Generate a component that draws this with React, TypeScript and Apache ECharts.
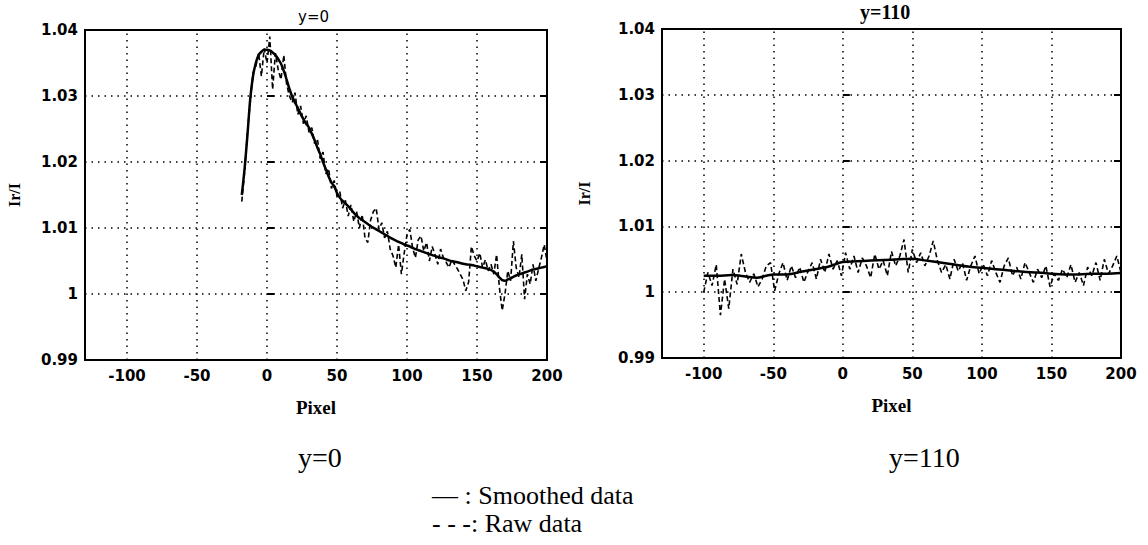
import React, { useEffect, useRef } from "react";
import * as echarts from "echarts";

// ---- Data ----
const xGridValues = [-100, -50, 0, 50, 100, 150];

// Left panel (y=0): smoothed data
const leftSmoothX = [-18, -16, -14, -12, -10, -8, -6, -4, -2, 0, 2, 4, 6, 8, 10, 12, 14, 16, 18, 20, 22, 24, 26, 28, 30, 32, 34, 36, 38, 40, 42, 44, 46, 48, 50, 52, 54, 56, 58, 60, 62, 64, 66, 68, 70, 74, 78, 82, 86, 90, 94, 98, 102, 106, 110, 114, 118, 122, 126, 130, 134, 138, 142, 146, 150, 154, 158, 162, 164, 166, 168, 170, 172, 174, 176, 178, 182, 186, 190, 194, 198, 200];
const leftSmoothY = [1.015, 1.019, 1.024, 1.0295, 1.033, 1.035, 1.0362, 1.0367, 1.037, 1.037, 1.0369, 1.0366, 1.0362, 1.0356, 1.0349, 1.0338, 1.0325, 1.0311, 1.0299, 1.029, 1.0282, 1.0273, 1.0265, 1.0258, 1.0252, 1.0243, 1.0233, 1.0222, 1.0212, 1.02, 1.0189, 1.0178, 1.0169, 1.0163, 1.0153, 1.0146, 1.0141, 1.0137, 1.0133, 1.0128, 1.0123, 1.0119, 1.0115, 1.0112, 1.0109, 1.0103, 1.0098, 1.0093, 1.0088, 1.0083, 1.0079, 1.0075, 1.0072, 1.0068, 1.0065, 1.0062, 1.0059, 1.0056, 1.0054, 1.0051, 1.0049, 1.0047, 1.0045, 1.0044, 1.0042, 1.004, 1.0038, 1.0034, 1.003, 1.0025, 1.0021, 1.002, 1.0022, 1.0024, 1.0026, 1.0028, 1.0031, 1.0034, 1.0037, 1.0039, 1.0041, 1.0042];

// Left panel (y=0): raw data
const leftRawX = [-18, -16, -14, -12, -10, -8, -6, -4, -2, 0, 2, 4, 6, 8, 10, 12, 14, 16, 18, 20, 22, 24, 26, 28, 30, 32, 34, 36, 38, 40, 42, 44, 46, 48, 50, 52, 54, 56, 58, 60, 62, 64, 66, 68, 70, 72, 74, 76, 78, 80, 82, 84, 86, 88, 90, 92, 94, 96, 98, 100, 102, 104, 106, 108, 110, 112, 114, 116, 118, 120, 122, 124, 126, 128, 130, 132, 134, 136, 138, 140, 142, 144, 146, 148, 150, 152, 154, 156, 158, 160, 162, 164, 166, 168, 170, 172, 174, 176, 178, 180, 182, 184, 186, 188, 190, 192, 194, 196, 198, 200];
const leftRawY = [1.014, 1.0185, 1.0245, 1.029, 1.0335, 1.0345, 1.0365, 1.033, 1.0372, 1.035, 1.039, 1.031, 1.0365, 1.034, 1.0325, 1.0362, 1.0318, 1.03, 1.029, 1.0305, 1.0272, 1.0285, 1.0258, 1.027, 1.0245, 1.0252, 1.0228, 1.0235, 1.0205, 1.0215, 1.0182, 1.019, 1.016, 1.0172, 1.0148, 1.0155, 1.013, 1.0142, 1.0118, 1.0135, 1.011, 1.0125, 1.01, 1.012, 1.0085, 1.0078, 1.0112, 1.0125, 1.013, 1.0098, 1.0108, 1.0085, 1.0095, 1.0068, 1.0058, 1.004, 1.0075, 1.003, 1.0062, 1.009, 1.0098, 1.007, 1.0055, 1.0082, 1.0088, 1.0065, 1.0078, 1.005, 1.0072, 1.006, 1.0045, 1.0068, 1.0055, 1.0048, 1.004, 1.0052, 1.0045, 1.0038, 1.003, 1.0022, 1.0005, 1.0018, 1.0072, 1.0058, 1.005, 1.0062, 1.004, 1.0052, 1.0035, 1.0045, 1.003, 1.006, 1.001, 0.9975, 1.0, 1.0035, 1.002, 1.008, 1.004, 1.0025, 1.006, 0.9992, 1.003, 1.0015, 1.0045, 1.002, 1.0038, 1.0055, 1.0075, 1.005];

// Right panel (y=110): smoothed data
const rightSmoothX = [-100, -90, -80, -70, -62, -55, -50, -40, -30, -20, -10, 0, 10, 20, 30, 40, 50, 60, 70, 80, 90, 100, 110, 120, 130, 140, 150, 160, 170, 180, 190, 200];
const rightSmoothY = [1.0025, 1.0025, 1.0026, 1.0024, 1.0022, 1.0025, 1.0027, 1.0027, 1.0031, 1.0035, 1.0039, 1.0046, 1.0047, 1.0048, 1.0049, 1.005, 1.0051, 1.0048, 1.0045, 1.0042, 1.0039, 1.0037, 1.0035, 1.0033, 1.0031, 1.003, 1.0028, 1.0027, 1.0027, 1.0028, 1.0028, 1.0029];

// Right panel (y=110): raw data
const rightRawX = [-100, -97, -94, -91, -88, -85, -82, -79, -76, -73, -70, -67, -64, -61, -58, -55, -52, -49, -46, -43, -40, -37, -34, -31, -28, -25, -22, -19, -16, -13, -10, -7, -4, -1, 2, 5, 8, 11, 14, 17, 20, 23, 26, 29, 32, 35, 38, 41, 44, 47, 50, 53, 56, 59, 62, 65, 68, 71, 74, 77, 80, 83, 86, 89, 92, 95, 98, 101, 104, 107, 110, 113, 116, 119, 122, 125, 128, 131, 134, 137, 140, 143, 146, 149, 152, 155, 158, 161, 164, 167, 170, 173, 176, 179, 182, 185, 188, 191, 194, 197, 200];
const rightRawY = [1.0, 1.003, 1.001, 1.0042, 0.9965, 1.002, 0.9975, 1.0035, 1.0012, 1.0058, 1.003, 1.0015, 1.0028, 1.0008, 1.002, 1.004, 1.0045, 1.0002, 1.0028, 1.0045, 1.0018, 1.004, 1.0022, 1.0038, 1.0015, 1.0032, 1.0045, 1.002, 1.005, 1.003, 1.0058, 1.0035, 1.0048, 1.0025, 1.006, 1.0035, 1.0055, 1.003, 1.0052, 1.004, 1.0022, 1.0058, 1.0035, 1.0048, 1.0025, 1.0062, 1.004, 1.0055, 1.008, 1.003, 1.0065, 1.0045, 1.006, 1.004, 1.0055, 1.0078, 1.0048, 1.003, 1.0042, 1.002, 1.005, 1.0032, 1.0045, 1.0018, 1.004, 1.0055, 1.0028, 1.0042, 1.0025, 1.0048, 1.003, 1.0015, 1.004, 1.0052, 1.0025, 1.0038, 1.002, 1.0045, 1.003, 1.0015, 1.0035, 1.0022, 1.004, 1.0008, 1.0028, 1.0018, 1.0035, 1.0022, 1.0042, 1.0015, 1.003, 1.001, 1.0038, 1.0025, 1.0045, 1.0018, 1.005, 1.0028, 1.004, 1.0055, 1.003];

const panelTitles = ["y=0", "y=110"];
const axisXName = "Pixel";
const axisYName = "Ir/I";
const legendSmooth = "— : Smoothed data";
const legendRaw = "- - -: Raw data";

const pairs = (xs: number[], ys: number[]) => xs.map((x, i) => [x, ys[i]]);
const SERIF = "Liberation Serif";
const TICKFONT = "DejaVu Sans";

export default function App() {
  const ref = useRef<HTMLDivElement>(null);
  useEffect(() => {
    document.body.style.margin = "0";
    if (!ref.current) return;
    const chart = echarts.init(ref.current, undefined, { renderer: "svg" });

    const grids = [
      { left: 85, top: 30, width: 462, height: 330 },
      { left: 662, top: 29, width: 459, height: 329 },
    ];
    const yNameGaps = [63, 70];
    const dotted = [1.5, 5];

    const xAxes = grids.map((_, gi) => ({
      type: "value",
      gridIndex: gi,
      min: -130,
      max: 200,
      interval: 10,
      axisLine: { show: false },
      axisTick: { show: false },
      splitLine: { show: false },
      axisLabel: {
        formatter: (v: number) => (Math.round(v) % 50 === 0 ? String(Math.round(v)) : ""),
        fontFamily: TICKFONT,
        fontWeight: "bold",
        fontSize: 15,
        color: "#000",
        margin: 8,
      },
      name: axisXName,
      nameLocation: "middle",
      nameGap: 38,
      nameTextStyle: { fontFamily: SERIF, fontWeight: "bold", fontSize: 19, color: "#000" },
    }));

    const yAxes: any[] = [];
    grids.forEach((_, gi) => {
      yAxes.push({
        type: "value",
        gridIndex: gi,
        min: 0.99,
        max: 1.04,
        interval: 0.01,
        axisLine: { show: false },
        axisTick: { show: true, inside: true, length: 7, lineStyle: { color: "#000", width: 2 } },
        splitLine: { show: true, lineStyle: { color: "#000", width: 1.5, type: dotted } },
        axisLabel: {
          formatter: (v: number) => String(Math.round(v * 100) / 100),
          fontFamily: TICKFONT,
          fontWeight: "bold",
          fontSize: 15,
          color: "#000",
          margin: 7,
        },
        name: axisYName,
        nameLocation: "middle",
        nameRotate: 90,
        nameGap: yNameGaps[gi],
        nameTextStyle: { fontFamily: SERIF, fontWeight: "bold", fontSize: 16, color: "#000" },
      });
      yAxes.push({
        type: "value",
        gridIndex: gi,
        position: "right",
        min: 0.99,
        max: 1.04,
        interval: 0.01,
        axisLine: { show: false },
        axisTick: { show: true, inside: true, length: 7, lineStyle: { color: "#000", width: 2 } },
        splitLine: { show: false },
        axisLabel: { show: false },
      });
    });

    const gridMarkLine = {
      silent: true,
      symbol: ["none", "none"],
      label: { show: false },
      lineStyle: { color: "#000", width: 1.5, type: dotted },
      data: xGridValues.map((x) => ({ xAxis: x })),
    };

    const series: any[] = [
      {
        type: "line",
        xAxisIndex: 0,
        yAxisIndex: 0,
        data: pairs(leftRawX, leftRawY),
        showSymbol: false,
        lineStyle: { color: "#000", width: 1.6, type: [5, 3] },
        markLine: gridMarkLine,
        z: 3,
      },
      {
        type: "line",
        xAxisIndex: 0,
        yAxisIndex: 0,
        data: pairs(leftSmoothX, leftSmoothY),
        showSymbol: false,
        smooth: 0.3,
        lineStyle: { color: "#000", width: 2.5 },
        z: 4,
      },
      {
        type: "line",
        xAxisIndex: 1,
        yAxisIndex: 2,
        data: pairs(rightRawX, rightRawY),
        showSymbol: false,
        lineStyle: { color: "#000", width: 1.6, type: [5, 3] },
        markLine: gridMarkLine,
        z: 3,
      },
      {
        type: "line",
        xAxisIndex: 1,
        yAxisIndex: 2,
        data: pairs(rightSmoothX, rightSmoothY),
        showSymbol: false,
        smooth: 0.3,
        lineStyle: { color: "#000", width: 2.5 },
        z: 4,
      },
    ];

    const serifText = (text: string, left: number, top: number, size: number) => ({
      type: "text",
      left,
      top,
      style: { text, font: `normal ${size}px "Liberation Serif", "Times New Roman", serif`, fill: "#000" },
    });

    const option: any = {
      animation: false,
      backgroundColor: "#fff",
      grid: grids.map((g) => ({ ...g, show: true, borderColor: "#000", borderWidth: 2, backgroundColor: "transparent" })),
      xAxis: xAxes,
      yAxis: yAxes,
      series,
      graphic: [
        {
          type: "text",
          left: 298,
          top: 9,
          style: { text: panelTitles[0], fontFamily: TICKFONT, fontSize: 15, fill: "#000" },
        },
        {
          type: "text",
          left: 860,
          top: 2,
          style: { text: panelTitles[1], fontFamily: SERIF, fontWeight: "bold", fontSize: 20, fill: "#000" },
        },
        serifText(panelTitles[0], 298, 443, 28),
        serifText(panelTitles[1], 889, 443, 28),
        serifText(legendSmooth, 432, 482, 26),
        serifText(legendRaw, 432, 510, 26),
      ],
    };
    chart.setOption(option);
    return () => chart.dispose();
  }, []);
  return <div ref={ref} style={{ width: 1148, height: 545 }} />;
}
